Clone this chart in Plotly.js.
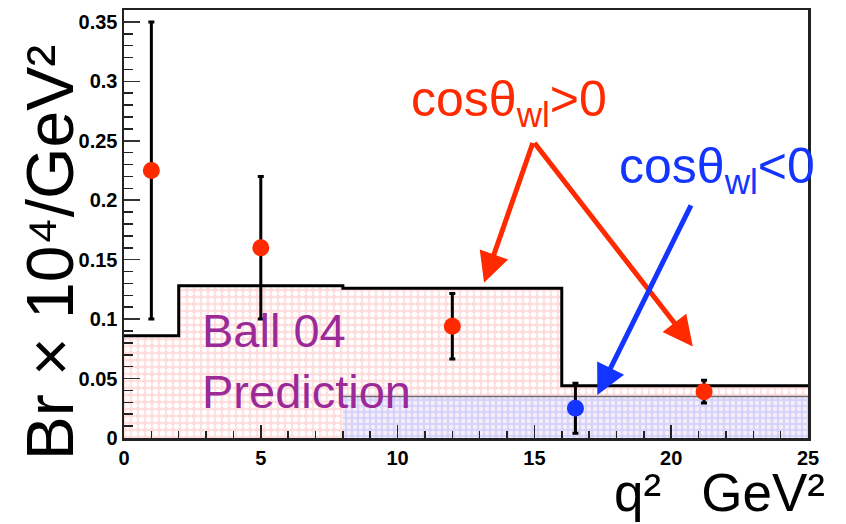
<!DOCTYPE html>
<html>
<head>
<meta charset="utf-8">
<script src="https://cdn.plot.ly/plotly-3.0.1.min.js"></script>
<style>
  html, body { margin: 0; padding: 0; background: #fff; }
  #chart { width: 846px; height: 524px; }
</style>
</head>
<body>
<div id="chart"></div>
<script>
// Ball 04 prediction, step histogram bin edges and heights (Br x 10^4 / GeV^2)
const binEdges = [0, 2, 8, 16, 25];
const predPos = [0.086, 0.128, 0.126, 0.044];   // cos(theta_wl) > 0
const predNeg = [0, 0, 0.035, 0.035];           // cos(theta_wl) < 0

// Measured points, cos(theta_wl) > 0
const posQ2 = [1, 5, 12, 21.2];
const posBr = [0.225, 0.16, 0.094, 0.039];
const posErr = [0.125, 0.06, 0.0275, 0.0095];

// Measured points, cos(theta_wl) < 0
const negQ2 = [16.5];
const negBr = [0.025];
const negErr = [0.021];

// Axis ticks
const xTickVals = [0, 5, 10, 15, 20, 25];
const xTickText = ['0', '5', '10', '15', '20', '25'];
const yTickVals = [0, 0.05, 0.1, 0.15, 0.2, 0.25, 0.3, 0.35];
const yTickText = ['0', '0.05', '0.1', '0.15', '0.2', '0.25', '0.3', '0.35'];

// step outline: repeat last height so the final bin closes at the right edge
const stepY = vals => vals.concat([vals[vals.length - 1]]);

const RED = '#ff2a00';
const BLUE = '#1434ff';

const traces = [
  {
    x: binEdges, y: stepY(predPos), type: 'scatter', mode: 'lines',
    line: { shape: 'hv', color: '#000', width: 3 },
    fill: 'tozeroy', fillcolor: 'rgb(255,226,226)',
    fillpattern: { shape: '.', bgcolor: 'rgb(255,220,220)', fgcolor: '#ffffff', size: 7, solidity: 0.5 },
    hoverinfo: 'skip', showlegend: false
  },
  {
    x: binEdges.slice(2), y: stepY(predNeg.slice(2)), type: 'scatter', mode: 'lines',
    line: { shape: 'hv', color: '#6e6e78', width: 1.5 },
    fill: 'tozeroy', fillcolor: 'rgb(214,214,250)',
    fillpattern: { shape: '.', bgcolor: 'rgb(212,212,250)', fgcolor: 'rgb(248,236,248)', size: 6, solidity: 0.45 },
    hoverinfo: 'skip', showlegend: false
  },
  {
    x: posQ2, y: posBr, type: 'scatter', mode: 'markers',
    marker: { color: RED, size: 17 },
    error_y: { type: 'data', array: posErr, visible: true, color: '#000', thickness: 3, width: 3 },
    showlegend: false
  },
  {
    x: negQ2, y: negBr, type: 'scatter', mode: 'markers',
    marker: { color: BLUE, size: 17 },
    error_y: { type: 'data', array: negErr, visible: true, color: '#000', thickness: 3, width: 3 },
    showlegend: false
  }
];

const FONT = 'Liberation Sans, Arial, Helvetica, sans-serif';

function arrow(tipX, tipY, tailX, tailY, color) {
  return {
    x: tipX, y: tipY, ax: tailX, ay: tailY,
    xref: 'x', yref: 'y', axref: 'x', ayref: 'y',
    text: '', showarrow: true, arrowhead: 2, arrowsize: 1.2,
    arrowwidth: 5, arrowcolor: color, standoff: 0, startstandoff: 0
  };
}

const layout = {
  width: 846, height: 524,
  margin: { l: 124, r: 38, t: 10, b: 86 },
  paper_bgcolor: '#fff', plot_bgcolor: '#fff',
  font: { family: FONT, color: '#000' },
  xaxis: {
    range: [0, 25], tickmode: 'array', tickvals: xTickVals, ticktext: xTickText,
    ticks: 'inside', ticklen: 13, tickwidth: 1.5, tickcolor: '#222',
    minor: { dtick: 1, ticks: 'inside', ticklen: 7, tickwidth: 1.5, tickcolor: '#222' },
    showgrid: false, zeroline: false,
    showline: true, linecolor: '#222', linewidth: 2.5, mirror: true,
    tickfont: { family: FONT, size: 20, color: '#000', weight: 'bold' }
  },
  yaxis: {
    range: [0, 0.36], tickmode: 'array', tickvals: yTickVals, ticktext: yTickText,
    ticks: 'inside', ticklen: 16, tickwidth: 1.5, tickcolor: '#333',
    minor: { dtick: 0.01, ticks: 'inside', ticklen: 9, tickwidth: 1.5, tickcolor: '#222' },
    showgrid: false, zeroline: false,
    showline: true, linecolor: '#222', linewidth: 2.5, mirror: true,
    tickfont: { family: FONT, size: 20, color: '#000', weight: 'bold' }
  },
  annotations: [
    arrow(13.16, 0.1305, 14.96, 0.2494, RED),
    arrow(20.79, 0.0769, 14.96, 0.2494, RED),
    arrow(17.30, 0.0362, 20.75, 0.197, BLUE),
    {
      x: 14.07, y: 0.282, xref: 'x', yref: 'y', xanchor: 'center', yanchor: 'middle',
      text: 'cosθ<sub>wl</sub>&gt;0', showarrow: false,
      font: { family: FONT, size: 50, color: RED }
    },
    {
      x: 21.67, y: 0.226, xref: 'x', yref: 'y', xanchor: 'center', yanchor: 'middle',
      text: 'cosθ<sub>wl</sub>&lt;0', showarrow: false,
      font: { family: FONT, size: 50, color: BLUE }
    },
    {
      x: 2.78, y: 0.0645, xref: 'x', yref: 'y', xanchor: 'left', yanchor: 'middle', align: 'left',
      text: 'Ball 04<br>Prediction', showarrow: false,
      font: { family: FONT, size: 47, color: '#9b2a98' }
    },
    {
      x: 1.028, y: -0.2, xref: 'paper', yref: 'paper', xanchor: 'right', yanchor: 'bottom',
      text: 'q²\u00a0\u00a0\u2009GeV²', showarrow: false,
      font: { family: FONT, size: 53, color: '#000' }
    },
    {
      x: -0.108, y: 0.432, xref: 'paper', yref: 'paper', xanchor: 'center', yanchor: 'middle',
      textangle: -90,
      text: 'Br × 10⁴/GeV²', showarrow: false,
      font: { family: FONT, size: 66, color: '#000' }
    }
  ]
};

Plotly.newPlot('chart', traces, layout, { displayModeBar: false, staticPlot: true });
</script>
</body>
</html>
